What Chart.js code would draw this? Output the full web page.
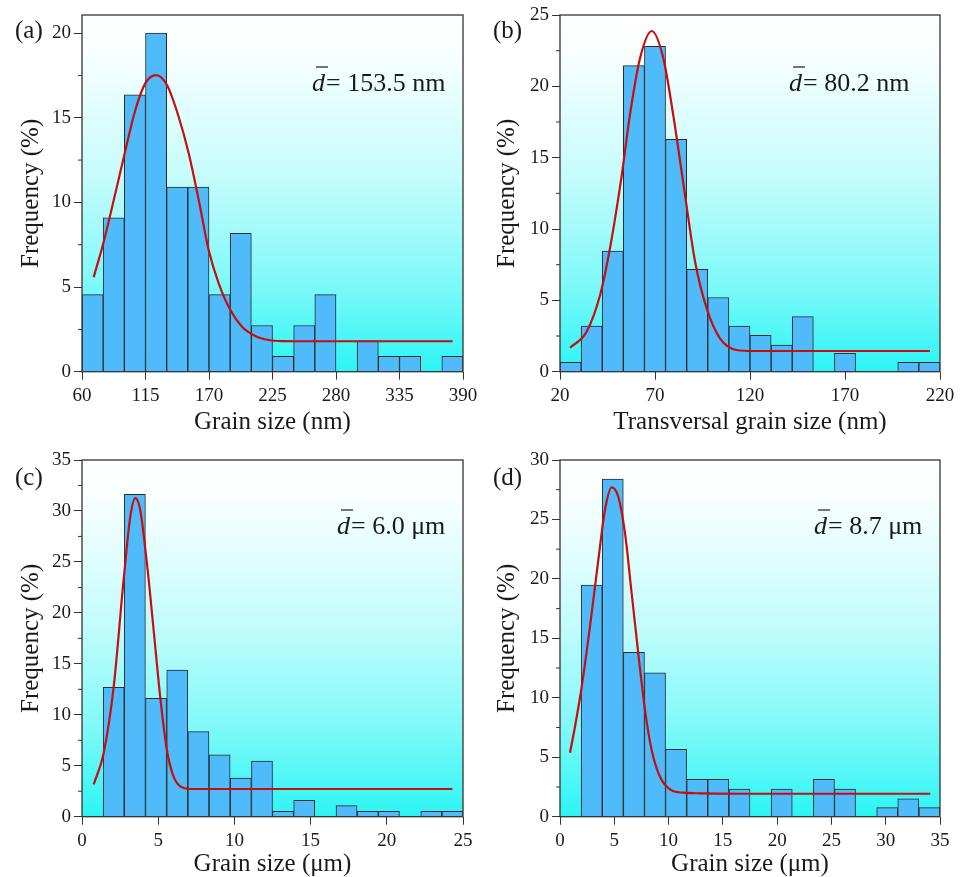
<!DOCTYPE html>
<html>
<head>
<meta charset="utf-8">
<script src="https://cdn.jsdelivr.net/npm/chart.js@4.4.1/dist/chart.umd.min.js"></script>
<style>
  html, body { margin: 0; padding: 0; background: #fff; }
  body { width: 960px; height: 877px; position: relative; overflow: hidden; }
  .panel { position: absolute; }
  canvas { display: block; }
</style>
</head>
<body>
<div class="panel" style="left:0;top:0"><canvas id="chartA" width="500" height="445"></canvas></div>
<div class="panel" style="left:480px;top:0"><canvas id="chartB" width="500" height="445"></canvas></div>
<div class="panel" style="left:0;top:440px"><canvas id="chartC" width="500" height="437"></canvas></div>
<div class="panel" style="left:480px;top:440px"><canvas id="chartD" width="500" height="437"></canvas></div>
<script>
'use strict';

// (a) grain size, nm
const binsA = [69.17, 87.5, 105.83, 124.17, 142.5, 160.83, 179.17, 197.5, 215.83, 234.17, 252.5, 270.83, 289.17, 307.5, 325.83, 344.17, 362.5, 380.83];
const freqA = [4.55, 9.09, 16.36, 20.0, 10.91, 10.91, 4.55, 8.18, 2.73, 0.91, 2.73, 4.55, 0, 1.82, 0.91, 0.91, 0, 0.91];
const fitXA = [70.1, 78.8, 88.9, 97.0, 106.2, 114.8, 124.1, 133.6, 143.7, 152.4, 161.1, 169.7, 178.4, 188.5, 198.6, 210.1, 221.7, 233.5, 260, 300, 340, 381];
const fitYA = [5.58, 7.68, 10.54, 12.9, 15.46, 17.03, 17.52, 16.93, 15.06, 12.9, 10.14, 7.19, 5.22, 3.64, 2.66, 2.11, 1.87, 1.81, 1.8, 1.8, 1.8, 1.8];
const xTicksA = [60, 115, 170, 225, 280, 335, 390];
const yTicksA = [0, 5, 10, 15, 20];
const yMinorA = [2.5, 7.5, 12.5, 17.5];

// (b) transversal grain size, nm
const binsB = [25.56, 36.67, 47.78, 58.89, 70, 81.11, 92.22, 103.33, 114.44, 125.56, 136.67, 147.78, 158.89, 170, 181.11, 192.22, 203.33, 214.44];
const freqB = [0.65, 3.2, 8.45, 21.45, 22.8, 16.28, 7.17, 5.2, 3.2, 2.55, 1.87, 3.86, 0, 1.29, 0, 0, 0.65, 0.65];
const fitXB = [25.3, 34.0, 41.1, 46.3, 52.5, 56.8, 62.1, 68.3, 74.4, 79.6, 85.8, 91.1, 97.2, 104.2, 113.0, 121.7, 150, 180, 214.7];
const fitYB = [1.68, 2.8, 5.37, 8.65, 13.78, 17.99, 21.96, 23.88, 21.96, 17.99, 12.38, 7.71, 4.44, 2.34, 1.52, 1.45, 1.45, 1.45, 1.45];
const xTicksB = [20, 70, 120, 170, 220];
const yTicksB = [0, 5, 10, 15, 20, 25];
const yMinorB = [2.5, 7.5, 12.5, 17.5, 22.5];

// (c) grain size, um
const binsC = [0.69, 2.08, 3.47, 4.86, 6.25, 7.64, 9.03, 10.42, 11.81, 13.19, 14.58, 15.97, 17.36, 18.75, 20.14, 21.53, 22.92, 24.31];
const freqC = [0, 12.69, 31.63, 11.61, 14.39, 8.34, 6.08, 3.79, 5.46, 0.52, 1.6, 0, 1.08, 0.52, 0.52, 0, 0.52, 0.52];
const fitXC = [0.77, 1.42, 2.08, 2.73, 3.17, 3.5, 3.82, 4.26, 4.7, 5.13, 5.57, 6.01, 6.56, 7.2, 10, 15, 20, 24.3];
const fitYC = [3.18, 6.22, 12.76, 23.23, 29.44, 31.25, 30.1, 24.87, 18.32, 11.78, 6.55, 3.93, 2.88, 2.72, 2.72, 2.72, 2.72, 2.72];
const xTicksC = [0, 5, 10, 15, 20, 25];
const yTicksC = [0, 5, 10, 15, 20, 25, 30, 35];
const yMinorC = [2.5, 7.5, 12.5, 17.5, 22.5, 27.5, 32.5];

// (d) grain size, um
const binsD = [0.97, 2.92, 4.86, 6.81, 8.75, 10.69, 12.64, 14.58, 16.53, 18.47, 20.42, 22.36, 24.31, 26.25, 28.19, 30.14, 32.08, 34.03];
const freqD = [0, 19.48, 28.4, 13.82, 12.11, 5.66, 3.14, 3.14, 2.33, 0, 2.33, 0, 3.14, 2.33, 0, 0.76, 1.51, 0.76];
const fitXD = [0.92, 1.38, 2.0, 2.76, 3.53, 4.14, 4.76, 5.37, 5.99, 6.6, 7.21, 7.83, 8.44, 9.21, 10.13, 11.36, 12.89, 20, 27, 34.1];
const fitYD = [5.38, 7.57, 10.93, 15.98, 21.59, 25.79, 27.7, 26.91, 23.83, 18.79, 13.74, 8.97, 5.61, 3.36, 2.3, 2.02, 1.97, 1.93, 1.93, 1.93];
const xTicksD = [0, 5, 10, 15, 20, 25, 30, 35];
const yTicksD = [0, 5, 10, 15, 20, 25, 30];
const yMinorD = [2.5, 7.5, 12.5, 17.5, 22.5, 27.5];

const SERIF = '"Liberation Serif", "Times New Roman", serif';
const INK = '#1a1a1a';

// background gradient, frame, minor ticks, panel tag and mean label
const decor = {
  id: 'decor',
  beforeDraw(chart) {
    const { ctx, chartArea: a } = chart;
    const g = ctx.createLinearGradient(0, a.top, 0, a.bottom);
    g.addColorStop(0, '#ffffff');
    g.addColorStop(0.1, '#f9fffe');
    g.addColorStop(0.45, '#c6fcfc');
    g.addColorStop(0.75, '#80f9f9');
    g.addColorStop(1, '#2bf5f5');
    ctx.save();
    ctx.fillStyle = g;
    ctx.fillRect(a.left, a.top, a.right - a.left, a.bottom - a.top);
    ctx.restore();
  },
  afterDraw(chart, args, o) {
    const { ctx, chartArea: a } = chart;
    const y = chart.scales.y;
    ctx.save();
    ctx.strokeStyle = '#333';
    ctx.lineWidth = 1.3;
    ctx.strokeRect(a.left, a.top, a.right - a.left, a.bottom - a.top);

    ctx.lineWidth = 1;
    o.minor.forEach(v => {
      const py = y.getPixelForValue(v);
      ctx.beginPath();
      ctx.moveTo(a.left - 4, py);
      ctx.lineTo(a.left, py);
      ctx.stroke();
    });

    ctx.fillStyle = INK;
    ctx.textBaseline = 'alphabetic';
    ctx.textAlign = 'left';
    ctx.font = '25px ' + SERIF;
    ctx.fillText(o.tag, o.tagX, o.tagY);

    ctx.font = 'italic 26px ' + SERIF;
    ctx.fillText('d', o.meanX, o.meanY);
    const wd = ctx.measureText('d').width;
    ctx.strokeStyle = INK;
    ctx.lineWidth = 1.2;
    ctx.beginPath();
    ctx.moveTo(o.meanX + 4, o.meanY - 24);
    ctx.lineTo(o.meanX + wd + 3, o.meanY - 24);
    ctx.stroke();
    ctx.font = '26px ' + SERIF;
    ctx.fillText('= ' + o.mean, o.meanX + wd + 1, o.meanY);
    ctx.restore();
  }
};

function makePanel(id, p) {
  const barData = p.bins.map((x, i) => ({ x, y: p.freq[i] }));
  const fitData = p.fitX.map((x, i) => ({ x, y: p.fitY[i] }));
  new Chart(document.getElementById(id), {
    type: 'bar',
    data: {
      datasets: [
        { type: 'line', data: fitData, borderColor: '#c80d0d', borderWidth: 2.2, pointRadius: 0, fill: false, cubicInterpolationMode: 'monotone', order: 0 },
        { type: 'bar', data: barData, backgroundColor: '#4fbbfb', borderColor: '#2a2a2a', borderWidth: 1, borderSkipped: 'start', barPercentage: 1, categoryPercentage: 1, order: 1 }
      ]
    },
    options: {
      responsive: false, animation: false, devicePixelRatio: 1,
      layout: { padding: { top: p.padTop, right: p.padRight, left: 0, bottom: 0 } },
      plugins: {
        legend: { display: false }, tooltip: { enabled: false },
        decor: { tag: p.tag, tagX: p.tagX, tagY: p.tagY, mean: p.mean, meanX: p.meanX, meanY: p.meanY, minor: p.yMinor }
      },
      scales: {
        x: {
          type: 'linear', min: p.xTicks[0], max: p.xTicks[p.xTicks.length - 1], offset: false,
          afterBuildTicks: s => { s.ticks = p.xTicks.map(v => ({ value: v })); },
          afterFit: s => { s.height = p.xAxisH; },
          grid: { display: true, drawOnChartArea: false, drawTicks: true, tickLength: 8, color: '#333', offset: false },
          border: { display: false },
          ticks: { color: INK, font: { family: SERIF, size: 19 }, padding: 5, maxRotation: 0 },
          title: { display: true, text: p.xTitle, color: INK, font: { family: SERIF, size: 25, lineHeight: 1 }, padding: { top: 0, bottom: p.xTitlePad } }
        },
        y: {
          min: 0, max: p.yMax,
          afterBuildTicks: s => { s.ticks = p.yTicks.map(v => ({ value: v })); },
          afterFit: s => { s.width = p.yAxisW; },
          grid: { display: true, drawOnChartArea: false, drawTicks: true, tickLength: 8, color: '#333' },
          border: { display: false },
          ticks: { color: INK, font: { family: SERIF, size: 19 }, padding: 3 },
          title: { display: true, text: 'Frequency (%)', color: INK, font: { family: SERIF, size: 25, lineHeight: 1 }, padding: { top: p.yTitlePad, bottom: 0 } }
        }
      }
    },
    plugins: [decor]
  });
}

makePanel('chartA', {
  bins: binsA, freq: freqA, fitX: fitXA, fitY: fitYA, xTicks: xTicksA, yTicks: yTicksA, yMinor: yMinorA, yMax: 21.07,
  xTitle: 'Grain size (nm)', tag: '(a)', tagX: 15, tagY: 38, mean: '153.5 nm', meanX: 312, meanY: 91,
  padTop: 15, padRight: 37, yAxisW: 82, xAxisH: 73.3, xTitlePad: 10.5, yTitlePad: 18.5
});
makePanel('chartB', {
  bins: binsB, freq: freqB, fitX: fitXB, fitY: fitYB, xTicks: xTicksB, yTicks: yTicksB, yMinor: yMinorB, yMax: 25,
  xTitle: 'Transversal grain size (nm)', tag: '(b)', tagX: 13, tagY: 38, mean: '80.2 nm', meanX: 309, meanY: 91,
  padTop: 15, padRight: 40, yAxisW: 80, xAxisH: 73.3, xTitlePad: 10.5, yTitlePad: 15
});
makePanel('chartC', {
  bins: binsC, freq: freqC, fitX: fitXC, fitY: fitYC, xTicks: xTicksC, yTicks: yTicksC, yMinor: yMinorC, yMax: 35,
  xTitle: 'Grain size (μm)', tag: '(c)', tagX: 15, tagY: 45, mean: '6.0 μm', meanX: 337, meanY: 94,
  padTop: 20, padRight: 37, yAxisW: 82, xAxisH: 60.3, xTitlePad: 0.5, yTitlePad: 18.5
});
makePanel('chartD', {
  bins: binsD, freq: freqD, fitX: fitXD, fitY: fitYD, xTicks: xTicksD, yTicks: yTicksD, yMinor: yMinorD, yMax: 30,
  xTitle: 'Grain size (μm)', tag: '(d)', tagX: 13, tagY: 45, mean: '8.7 μm', meanX: 334, meanY: 94,
  padTop: 20, padRight: 40, yAxisW: 80, xAxisH: 60.3, xTitlePad: 0.5, yTitlePad: 15
});
</script>
</body>
</html>
